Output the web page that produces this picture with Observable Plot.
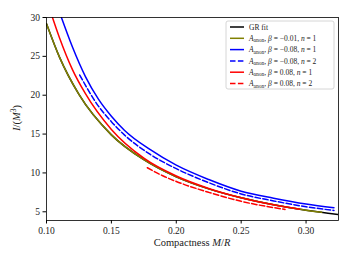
<!DOCTYPE html>
<html><head><meta charset="utf-8">
<script src="https://cdn.jsdelivr.net/npm/d3@7"></script>
<script src="https://cdn.jsdelivr.net/npm/@observablehq/plot@0.6"></script>
<style>body{margin:0;background:#fff}</style>
</head><body><div id="chart"></div>
<script>
// Tick labels
const xTicks = [0.10, 0.15, 0.20, 0.25, 0.30];
const yTicks = [5, 10, 15, 20, 25, 30];

// GR fit
const C_gr = [0.10, 0.11, 0.125, 0.15, 0.175, 0.20, 0.225, 0.25, 0.275, 0.30, 0.325];
const I_gr = [29.2, 24.9, 20.1, 14.9, 11.7, 9.5, 7.95, 6.8, 5.9, 5.2, 4.65];
// beta = -0.01, n = 1
const C_m001n1 = [0.10, 0.11, 0.125, 0.15, 0.175, 0.20, 0.225, 0.25, 0.275, 0.30, 0.312];
const I_m001n1 = [29.2, 24.9, 20.1, 14.9, 11.7, 9.5, 7.95, 6.8, 5.9, 5.2, 4.93];
// beta = -0.08, n = 1
const C_m008n1 = [0.1115, 0.12, 0.13, 0.14, 0.15, 0.16, 0.18, 0.20, 0.225, 0.25, 0.275, 0.30, 0.3215];
const I_m008n1 = [30, 26.2, 22.4, 19.5, 17.3, 15.5, 12.99, 11.0, 9.15, 7.65, 6.75, 6.0, 5.52];
// beta = -0.08, n = 2
const C_m008n2 = [0.1256, 0.14, 0.15, 0.16, 0.18, 0.20, 0.225, 0.25, 0.275, 0.30, 0.3215];
const I_m008n2 = [22.6, 18.6, 16.6, 14.9, 12.38, 10.55, 8.75, 7.3, 6.4, 5.65, 5.17];
// beta = 0.08, n = 1
const C_p008n1 = [0.1046, 0.11, 0.12, 0.13, 0.15, 0.175, 0.20, 0.225, 0.25, 0.275, 0.295];
const I_p008n1 = [30, 27.4, 23.3, 20.2, 15.6, 11.9, 9.6, 8.0, 6.8, 5.9, 5.33];
// beta = 0.08, n = 2
const C_p008n2 = [0.1777, 0.19, 0.20, 0.225, 0.25, 0.2838];
const I_p008n2 = [10.67, 9.6, 8.9, 7.5, 6.35, 5.3];

const series = [
  {C: C_gr, I: I_gr, color: "black", dash: null, beta: null, n: null},
  {C: C_m001n1, I: I_m001n1, color: "#808000", dash: null, beta: "\u22120.01", n: "1"},
  {C: C_m008n1, I: I_m008n1, color: "#0000ff", dash: null, beta: "\u22120.08", n: "1"},
  {C: C_m008n2, I: I_m008n2, color: "#0000ff", dash: "5.5,2.4", beta: "\u22120.08", n: "2"},
  {C: C_p008n1, I: I_p008n1, color: "#ff0000", dash: null, beta: "0.08", n: "1"},
  {C: C_p008n2, I: I_p008n2, color: "#ff0000", dash: "5.5,2.4", beta: "0.08", n: "2"}
];

const font = "'Liberation Serif', 'DejaVu Serif', serif";

const lineMarks = series.map(s => Plot.line(s.C.map((c, i) => ({C: c, I: s.I[i]})), {
  x: "C", y: "I", stroke: s.color, strokeWidth: 1.5,
  strokeDasharray: s.dash || undefined, curve: "monotone-x", clip: true
}));

const svg = Plot.plot({
  width: 352, height: 264,
  marginLeft: 46, marginRight: 14, marginTop: 17, marginBottom: 44,
  style: {fontFamily: font, fontSize: "9.5px", color: "#222", background: "white"},
  x: {domain: [0.10, 0.325], label: null},
  y: {domain: [3.88, 30], label: null},
  marks: [
    ...lineMarks,
    Plot.axisX({ticks: xTicks, tickFormat: d3.format(".2f"), tickSize: 3.5, tickPadding: 3, label: null, fontSize: 9.5, stroke: "#000"}),
    Plot.axisY({ticks: yTicks, tickSize: 3.5, tickPadding: 3, label: null, fontSize: 9.5, stroke: "#000"}),
    Plot.frame({stroke: "#000", strokeWidth: 0.8})
  ]
});
document.getElementById("chart").appendChild(svg);

const root = d3.select(svg);

// axis labels
const xl = root.append("text").attr("x", 192).attr("y", 246).attr("text-anchor", "middle")
  .attr("font-family", font).attr("font-size", 10.5).attr("fill", "#222");
xl.append("tspan").text("Compactness ");
xl.append("tspan").attr("font-style", "italic").text("M");
xl.append("tspan").text("/");
xl.append("tspan").attr("font-style", "italic").text("R");

const yl = root.append("text").attr("transform", "translate(20,118) rotate(-90)").attr("text-anchor", "middle")
  .attr("font-family", font).attr("font-size", 10.5).attr("fill", "#222");
yl.append("tspan").attr("font-style", "italic").text("I");
yl.append("tspan").text("/(");
yl.append("tspan").attr("font-style", "italic").text("M");
yl.append("tspan").attr("font-size", 7.5).attr("dy", -4).text("3");
yl.append("tspan").attr("dy", 4).text(")");

// legend
const lg = root.append("g").attr("font-family", font).attr("font-size", 7.5).attr("fill", "#222")
  .attr("text-anchor", "start");
lg.append("rect").attr("x", 226).attr("y", 21).attr("width", 108).attr("height", 68)
  .attr("rx", 2).attr("fill", "white").attr("fill-opacity", 0.85).attr("stroke", "#cccccc").attr("stroke-width", 0.8);
series.forEach((s, i) => {
  const y = 27 + i * 11.3;
  lg.append("line").attr("x1", 230).attr("x2", 244).attr("y1", y).attr("y2", y)
    .attr("stroke", s.color).attr("stroke-width", 1.5).attr("stroke-dasharray", s.dash);
  const t = lg.append("text").attr("x", 249).attr("y", y + 2.6).attr("text-anchor", "start");
  if (s.beta === null) { t.text("GR fit"); return; }
  t.append("tspan").attr("font-style", "italic").text("A");
  t.append("tspan").attr("font-size", 5.5).attr("dy", 1.5).text("anon");
  t.append("tspan").attr("dy", -1.5).text(", ");
  t.append("tspan").attr("font-style", "italic").text("\u03b2");
  t.append("tspan").text(" = " + s.beta + ", ");
  t.append("tspan").attr("font-style", "italic").text("n");
  t.append("tspan").text(" = " + s.n);
});
</script>
</body></html>
